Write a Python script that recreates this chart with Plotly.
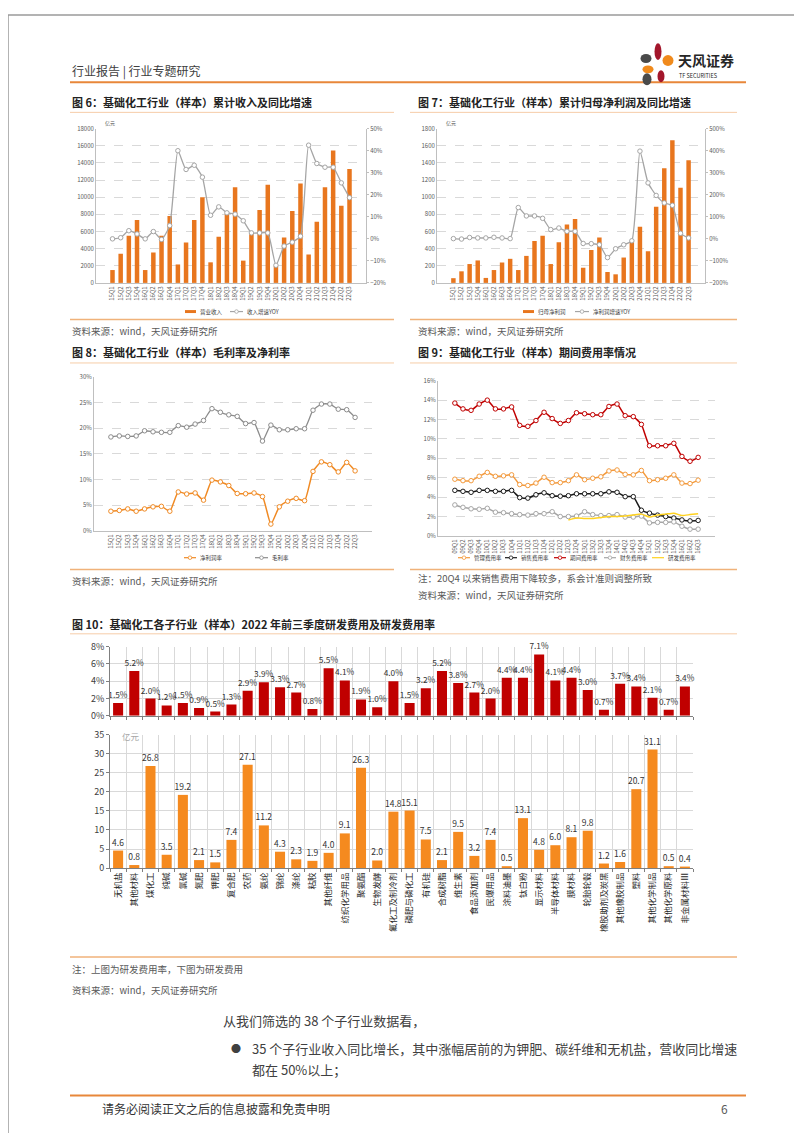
import plotly.graph_objects as go

W, H = 802, 1133
FONT = "Noto Sans CJK SC, Noto Sans, sans-serif"

# ---------------- data ----------------
quarters = ['15Q1', '15Q2', '15Q3', '15Q4', '16Q1', '16Q2', '16Q3', '16Q4',
            '17Q1', '17Q2', '17Q3', '17Q4', '18Q1', '18Q2', '18Q3', '18Q4',
            '19Q1', '19Q2', '19Q3', '19Q4', '20Q1', '20Q2', '20Q3', '20Q4',
            '21Q1', '21Q2', '21Q3', '21Q4', '22Q2', '22Q3']

revenue = [1500, 3400, 5500, 7350, 1500, 3550, 5500, 7800, 2150, 4700, 7350, 10000,
           2400, 5400, 8000, 11150, 2600, 5800, 8500, 11450, 1950, 5300, 8400, 11600,
           3300, 7150, 11150, 15450, 9000, 13300]
revenue_yoy = [0.0, 0.5, 3.7, 2.2, 0.0, 3.3, -0.3, 6.0, 40.0, 31.5, 33.4, 28.0,
               10.7, 14.5, 11.8, 11.2, 8.2, 2.7, 2.7, 2.7, -12.0, -3.3, -1.5, 1.2,
               42.5, 34.2, 32.5, 32.5, 25.4, 18.7]

profit = [55, 135, 220, 262, 58, 150, 238, 281, 150, 315, 488, 550,
          220, 473, 681, 746, 177, 385, 531, 127, 100, 296, 480, 654,
          369, 888, 1338, 1665, 1111, 1431]
profit_yoy = [1, -1, 6, 4, 4, 7, 4, 1, 142, 104, 104, 93,
              42, 49, 34, 34, -21, -22, -27, -85, -45, -27, -9, 398,
              254, 197, 163, 152, 25, 4]

net_margin = [3.85, 4.0, 4.3, 3.85, 4.3, 4.7, 4.8, 3.85, 7.6, 7.2, 7.4, 6.0,
              9.9, 9.55, 8.85, 7.3, 7.25, 7.4, 6.7, 1.35, 4.7, 5.8, 6.35, 5.9,
              11.6, 13.45, 12.9, 11.5, 13.35, 11.7]
gross_margin = [18.3, 18.5, 18.4, 18.5, 19.5, 19.3, 19.2, 19.2, 20.5, 20.2, 20.8, 21.5,
                23.8, 23.1, 22.6, 22.3, 20.9, 21.1, 17.5, 20.6, 19.7, 19.7, 19.9, 19.9,
                23.5, 24.7, 24.7, 23.7, 23.6, 22.1]

q9 = ['09Q1', '09Q2', '09Q3', '09Q4', '10Q1', '10Q2', '10Q3', '10Q4',
      '11Q1', '11Q2', '11Q3', '11Q4', '12Q1', '12Q2', '12Q3', '12Q4',
      '13Q1', '13Q2', '13Q3', '13Q4', '14Q1', '14Q2', '14Q3', '14Q4',
      '15Q1', '15Q2', '15Q3', '15Q4', '16Q1', '16Q2', '16Q3']
mgmt_rate = [5.85, 5.7, 5.7, 6.15, 6.55, 6.15, 6.2, 6.3, 5.3, 5.2, 5.45, 6.05,
             5.5, 5.5, 5.7, 6.3, 5.8, 5.95, 6.1, 6.7, 6.8, 6.35, 6.3, 6.75,
             5.7, 5.8, 5.95, 6.3, 5.45, 5.4, 5.75]
sales_rate = [4.7, 4.6, 4.5, 4.7, 4.7, 4.6, 4.6, 4.7, 3.95, 3.9, 4.25, 4.45,
              4.15, 4.1, 4.15, 4.35, 4.35, 4.35, 4.35, 4.55, 4.5, 4.05, 4.05, 2.65,
              2.35, 2.15, 2.0, 1.85, 1.65, 1.55, 1.6]
period_rate = [13.7, 13.1, 12.95, 13.6, 14.0, 13.1, 13.1, 13.3, 11.4, 11.3, 11.9, 12.75,
               12.1, 11.6, 11.9, 12.7, 12.6, 12.5, 12.5, 13.35, 13.6, 12.4, 12.3, 11.5,
               9.3, 9.3, 9.3, 9.55, 8.2, 7.7, 8.1]
fin_rate = [3.2, 2.95, 2.8, 2.75, 2.85, 2.45, 2.4, 2.3, 2.2, 2.15, 2.3, 2.3,
            2.5, 2.0, 2.0, 2.05, 2.5, 2.2, 2.1, 2.1, 2.2, 1.95, 1.95, 2.05,
            1.35, 1.4, 1.4, 1.45, 1.0, 0.7, 0.7]
rd_rate9 = [None] * 14 + [1.65, 1.85, 1.8, 1.8, 1.9, 2.0, 2.0, 2.05, 2.15, 2.25,
                          1.95, 2.15, 2.25, 2.35, 2.1, 2.2, 2.3]

sub_industries = ['无机盐', '其他材料', '煤化工', '纯碱', '氯碱', '氮肥', '钾肥', '复合肥',
                  '农药', '氨纶', '锦纶', '涤纶', '粘胶', '其他纤维', '纺织化学用品', '聚氨酯',
                  '生物发酵', '氟化工及制冷剂', '磷肥与磷化工', '有机硅', '合成树脂', '维生素',
                  '食品添加剂', '民爆用品', '涂料油墨', '钛白粉', '显示材料', '半导体材料',
                  '膜材料', '轮胎轮毂', '橡胶助剂及炭黑', '其他橡胶制品', '塑料', '其他化学制品',
                  '其他化学原料', '非金属材料Ⅲ']
rd_ratio = [1.5, 5.2, 2.0, 1.2, 1.5, 0.9, 0.5, 1.3, 2.9, 3.9, 3.3, 2.7, 0.8, 5.5, 4.1, 1.9,
            1.0, 4.0, 1.5, 3.2, 5.2, 3.8, 2.7, 2.0, 4.4, 4.4, 7.1, 4.1, 4.4, 3.0, 0.7, 3.7,
            3.4, 2.1, 0.7, 3.4]
rd_expense = [4.6, 0.8, 26.8, 3.5, 19.2, 2.1, 1.5, 7.4, 27.1, 11.2, 4.3, 2.3, 1.9, 4.0, 9.1,
              26.3, 2.0, 14.8, 15.1, 7.5, 2.1, 9.5, 3.2, 7.4, 0.5, 13.1, 4.8, 6.0, 8.1, 9.8,
              1.2, 1.6, 20.7, 31.1, 0.5, 0.4]


# ---------------- helpers ----------------
def px(x):
    return x / W


def py(y):
    return 1 - y / H


ORANGE_BAR = '#E8761E'
GRAY = '#A5A5A5'
TICK = '#595959'

fig = go.Figure()

# chart 6
fig.add_trace(go.Bar(x=quarters, y=revenue, name='营业收入', width=0.55,
                     marker=dict(color=ORANGE_BAR, line=dict(width=0)),
                     xaxis='x', yaxis='y'))
fig.add_trace(go.Scatter(x=quarters, y=revenue_yoy, name='收入增速YOY', mode='lines+markers',
                         line=dict(color=GRAY, width=1.3, shape='spline', smoothing=0.5),
                         marker=dict(size=4.5, color='white', line=dict(color=GRAY, width=1)),
                         xaxis='x', yaxis='y2'))
# chart 7
fig.add_trace(go.Bar(x=quarters, y=profit, name='归母净利润', width=0.55,
                     marker=dict(color=ORANGE_BAR, line=dict(width=0)),
                     xaxis='x2', yaxis='y3'))
fig.add_trace(go.Scatter(x=quarters, y=profit_yoy, name='净利润增速YOY', mode='lines+markers',
                         line=dict(color=GRAY, width=1.3, shape='spline', smoothing=0.5),
                         marker=dict(size=4.5, color='white', line=dict(color=GRAY, width=1)),
                         xaxis='x2', yaxis='y4'))
# chart 8
fig.add_trace(go.Scatter(x=quarters, y=net_margin, name='净利润率', mode='lines+markers',
                         line=dict(color='#F08A24', width=1.5, shape='spline', smoothing=0.5),
                         marker=dict(size=4.5, color='white', line=dict(color='#F08A24', width=1)),
                         xaxis='x3', yaxis='y5'))
fig.add_trace(go.Scatter(x=quarters, y=gross_margin, name='毛利率', mode='lines+markers',
                         line=dict(color='#8C8C8C', width=1.3, shape='spline', smoothing=0.5),
                         marker=dict(size=4.5, color='white', line=dict(color='#8C8C8C', width=1)),
                         xaxis='x3', yaxis='y5'))
# chart 9
series9 = [(mgmt_rate, '管理费用率', '#F39A3D', True),
           (sales_rate, '销售费用率', '#1A1A1A', True),
           (period_rate, '期间费用率', '#C00000', True),
           (fin_rate, '财务费用率', '#A6A6A6', True),
           (rd_rate9, '研发费用率', '#FFD21F', False)]
for vals, nm, col, mk in series9:
    fig.add_trace(go.Scatter(x=q9, y=vals, name=nm, mode='lines+markers' if mk else 'lines',
                             line=dict(color=col, width=1.5, shape='spline', smoothing=0.5),
                             marker=dict(size=4.5, color='white', line=dict(color=col, width=1)),
                             xaxis='x4', yaxis='y6'))
# chart 10
fig.add_trace(go.Bar(x=sub_industries, y=rd_ratio, name='研发费用率', width=0.62,
                     marker=dict(color='#C00000', line=dict(width=0)),
                     text=[f'{v:.1f}%' for v in rd_ratio], textposition='outside',
                     textangle=0, constraintext='none', cliponaxis=False,
                     textfont=dict(size=8.3, color='#333333'),
                     xaxis='x5', yaxis='y7'))
fig.add_trace(go.Bar(x=sub_industries, y=rd_expense, name='研发费用', width=0.62,
                     marker=dict(color='#F58A1F', line=dict(width=0)),
                     text=[f'{v:.1f}' for v in rd_expense], textposition='outside',
                     textangle=0, constraintext='none', cliponaxis=False,
                     textfont=dict(size=8.5, color='#333333'),
                     xaxis='x6', yaxis='y8'))


def cat_x(x0, x1, anchor, size=6):
    return dict(domain=[px(x0), px(x1)], anchor=anchor, type='category', tickangle=-90,
                tickfont=dict(size=size, color=TICK), showgrid=False, showline=True,
                linecolor='#BFBFBF', linewidth=1, ticks='', fixedrange=True)


def val_y(ytop, ybot, anchor, rng, dtick, suffix='', size=6):
    return dict(domain=[py(ybot), py(ytop)], anchor=anchor, range=rng, dtick=dtick,
                ticksuffix=suffix, tickformat='d', tickfont=dict(size=size, color=TICK),
                showgrid=True, gridcolor='#D9D9D9', griddash='dash', gridwidth=0.8,
                showline=True, linecolor='#BFBFBF', linewidth=1, zeroline=False, ticks='',
                fixedrange=True)


def right_y(over, anchor, rng, dtick):
    return dict(overlaying=over, side='right', anchor=anchor, range=rng, dtick=dtick,
                ticksuffix='%', tickformat='d', tickfont=dict(size=6, color=TICK),
                showgrid=False, showline=True, linecolor='#BFBFBF', linewidth=1,
                ticks='outside', ticklen=2, tickcolor='#BFBFBF', zeroline=False,
                fixedrange=True)


x10 = dict(domain=[px(102), px(685)], type='category', tickson='boundaries',
           showgrid=True, gridcolor='#D9D9D9', gridwidth=0.8, showline=True,
           linecolor='#7F7F7F', linewidth=1, ticks='outside', ticklen=3, tickcolor='#7F7F7F',
           fixedrange=True)
y10 = dict(showgrid=True, gridcolor='#D9D9D9', gridwidth=0.8, showline=True,
           linecolor='#7F7F7F', linewidth=1, ticks='outside', ticklen=3, tickcolor='#7F7F7F',
           tickfont=dict(size=9, color='#404040'), zeroline=False, fixedrange=True)

fig.update_layout(
    width=W, height=H, autosize=False,
    margin=dict(l=0, r=0, t=0, b=0),
    paper_bgcolor='white', plot_bgcolor='white',
    font=dict(family=FONT, color='#333333'),
    showlegend=False, bargap=0.4,
    xaxis=cat_x(88, 358, 'y'),
    yaxis=val_y(115, 271, 'x', [0, 18000], 2000),
    yaxis2=right_y('y', 'x', [-20, 50], 10),
    xaxis2=cat_x(429, 697, 'y3'),
    yaxis3=val_y(115, 271, 'x2', [0, 1800], 200),
    yaxis4=right_y('y3', 'x2', [-200, 500], 100),
    xaxis3=cat_x(86, 364, 'y5'),
    yaxis5=val_y(366, 522, 'x3', [0, 30], 5, '%'),
    xaxis4=cat_x(430, 707, 'y6'),
    yaxis6=val_y(370, 527, 'x4', [0, 16], 2, '%'),
    xaxis5=dict(x10, anchor='y7', showticklabels=False),
    yaxis7=dict(y10, domain=[py(709), py(639)], anchor='x5', range=[0, 8], dtick=2,
                ticksuffix='%', tickformat='d'),
    xaxis6=dict(x10, anchor='y8', tickangle=-90, tickfont=dict(size=8.5, color='#262626')),
    yaxis8=dict(y10, domain=[py(863), py(728)], anchor='x6', range=[0, 35], dtick=5),
)

shapes = []
annotations = []


def hline(x0, x1, y, color, width):
    shapes.append(dict(type='line', xref='paper', yref='paper', x0=px(x0), x1=px(x1),
                       y0=py(y), y1=py(y), line=dict(color=color, width=width)))


def txt(x, y, s, size, color='#333333', xanchor='left'):
    annotations.append(dict(x=px(x), y=py(y), xref='paper', yref='paper', text=s,
                            showarrow=False, xanchor=xanchor, yanchor='middle',
                            font=dict(size=size, color=color)))


def leg_line(x0, x1, y, color, marker=True):
    hline(x0, x1, y, color, 1.2)
    if marker:
        cx, r = (x0 + x1) / 2, 1.8
        shapes.append(dict(type='circle', xref='paper', yref='paper', x0=px(cx - r),
                           x1=px(cx + r), y0=py(y + r), y1=py(y - r), fillcolor='white',
                           line=dict(color=color, width=0.8)))


def leg_bar(x0, x1, y, color):
    shapes.append(dict(type='rect', xref='paper', yref='paper', x0=px(x0), x1=px(x1),
                       y0=py(y + 1.5), y1=py(y - 1.5), fillcolor=color, line=dict(width=0)))


def ellipse(cx, cy, w, h, color):
    shapes.append(dict(type='circle', xref='paper', yref='paper', x0=px(cx - w / 2),
                       x1=px(cx + w / 2), y0=py(cy + h / 2), y1=py(cy - h / 2),
                       fillcolor=color, line=dict(width=0)))


# page frame
shapes.append(dict(type='rect', xref='paper', yref='paper', x0=0, x1=1, y0=0, y1=1,
                   line=dict(color='#9A9A9A', width=1.5)))

# header
txt(62, 57, '行业报告 | 行业专题研究', 12, '#404040')
hline(62, 738, 68, '#E8873A', 2)
ellipse(650, 37, 7, 17, '#A3162B')
ellipse(660, 46, 11, 11, '#F08A1C')
ellipse(638, 44, 11, 9, '#4A4A4A')
ellipse(640, 55, 11, 8, '#F08A1C')
ellipse(639, 65, 9, 12, '#4A4A4A')
ellipse(653, 62, 7, 12, '#A3162B')
txt(668, 46, '<b>天风证券</b>', 14, '#262626')
txt(669, 62, 'TF SECURITIES', 5.5, '#262626')

# figure titles & rules
TITLE = '#222222'
txt(62, 88, '<b>图 6：基础化工行业（样本）累计收入及同比增速</b>', 11, TITLE)
txt(408, 88, '<b>图 7：基础化工行业（样本）累计归母净利润及同比增速</b>', 11, TITLE)
hline(62, 386, 98.5, '#F6CDA8', 1)
hline(402, 729, 98.5, '#F6CDA8', 1)
txt(95, 109, '亿元', 5, '#595959')
txt(436, 109, '亿元', 5, '#595959')

leg_bar(177, 188, 300, ORANGE_BAR)
txt(190, 300, '营业收入', 5.5, '#404040')
leg_line(222, 235, 300, GRAY)
txt(237, 300, '收入增速YOY', 5.5, '#404040')
leg_bar(515, 526, 300, ORANGE_BAR)
txt(528, 300, '归母净利润', 5.5, '#404040')
leg_line(567, 581, 300, GRAY)
txt(583, 300, '净利润增速YOY', 5.5, '#404040')

hline(62, 386, 308, '#F0B27A', 1.5)
hline(402, 729, 308, '#F0B27A', 1.5)
txt(62, 320, '资料来源：wind，天风证券研究所', 9.5, '#595959')
txt(408, 320, '资料来源：wind，天风证券研究所', 9.5, '#595959')

txt(62, 341, '<b>图 8：基础化工行业（样本）毛利率及净利率</b>', 11, TITLE)
txt(408, 341, '<b>图 9：基础化工行业（样本）期间费用率情况</b>', 11, TITLE)
hline(62, 386, 352, '#F6CDA8', 1)
hline(402, 729, 352, '#F6CDA8', 1)

leg_line(176, 188, 549, '#F08A24')
txt(190, 549, '净利润率', 5.5, '#404040')
leg_line(247, 260, 549, '#8C8C8C')
txt(262, 549, '毛利率', 5.5, '#404040')
lx = [450, 497, 546, 596, 644]
for (vals, nm, col, mk), x0 in zip(series9, lx):
    leg_line(x0, x0 + 12, 549, col, mk)
    txt(x0 + 14, 549, nm, 5.5, '#404040')

hline(62, 386, 561, '#F0B27A', 1.5)
hline(402, 729, 561, '#F0B27A', 1.5)
txt(62, 573, '资料来源：wind，天风证券研究所', 9.5, '#595959')
txt(408, 570, '注：20Q4 以来销售费用下降较多，系会计准则调整所致', 9.5, '#595959')
txt(408, 587, '资料来源：wind，天风证券研究所', 9.5, '#595959')

txt(62, 616, '<b>图 10：基础化工各子行业（样本）2022 年前三季度研发费用及研发费用率</b>', 11, TITLE)
hline(62, 729, 626, '#F6CDA8', 1)
txt(112, 729, '亿元', 8.5, '#A6A6A6')

hline(62, 729, 953, '#F0B27A', 1.5)
txt(62, 965, '注：上图为研发费用率，下图为研发费用', 9.5, '#595959')
txt(62, 986, '资料来源：wind，天风证券研究所', 9.5, '#595959')

# body
BODY = '#404040'
txt(213, 1017, '从我们筛选的 38 个子行业数据看，', 13, BODY)
txt(221, 1045, '●', 10, BODY)
txt(242, 1045, '35 个子行业收入同比增长，其中涨幅居前的为钾肥、碳纤维和无机盐，营收同比增速', 13, BODY)
txt(242, 1067, '都在 50%以上；', 13, BODY)

# footer
hline(62, 738, 1093, '#E8873A', 2)
txt(92, 1106, '请务必阅读正文之后的信息披露和免责申明', 12, '#333333')
txt(722, 1106, '6', 12, '#595959', xanchor='right')

fig.update_layout(shapes=shapes, annotations=annotations)
fig.write_html('out.html')
